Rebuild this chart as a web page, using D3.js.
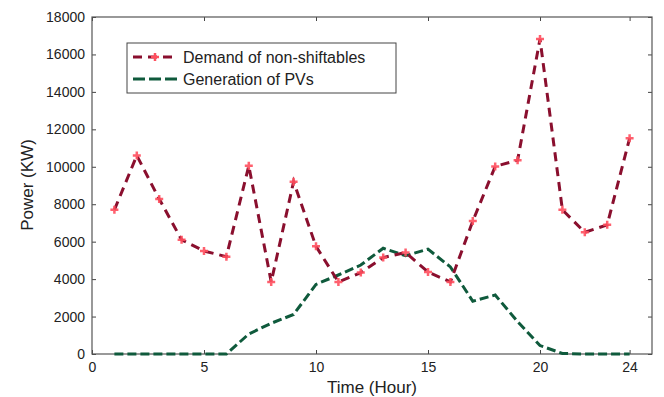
<!DOCTYPE html>
<html><head><meta charset="utf-8">
<script src="https://cdn.jsdelivr.net/npm/d3@7"></script>
<style>
body{margin:0;background:#fff;}
text{font-family:"Liberation Sans",Arial,Helvetica,sans-serif;fill:#222;}
</style></head>
<body><svg id="c" width="664" height="397"></svg>
<script>
const hours = [1,2,3,4,5,6,7,8,9,10,11,12,13,14,15,16,17,18,19,20,21,22,23,24];
const demand = [7700,10600,8280,6100,5500,5200,10050,3850,9200,5750,3850,4350,5150,5420,4380,3850,7100,10020,10350,16820,7700,6500,6900,11520];
const pv = [0,0,0,0,0,0,1070,1640,2110,3720,4220,4750,5650,5250,5600,4650,2820,3150,1730,450,30,0,0,0];
const xTicks = [0,5,10,15,20,24];
const yTicks = [0,2000,4000,6000,8000,10000,12000,14000,16000,18000];
const seriesNames = ["Demand of non-shiftables","Generation of PVs"];

const svg = d3.select("#c");
const L=92,R=652,T=17,B=354;
const x = d3.scaleLinear().domain([0,25]).range([L,R]);
const y = d3.scaleLinear().domain([0,18000]).range([B,T]);

const tickCol="#444";
const gB = svg.append("g").attr("transform",`translate(0,${B})`)
  .call(d3.axisBottom(x).tickValues(xTicks).tickSizeInner(-4).tickSizeOuter(0).tickPadding(8).tickFormat(d3.format("d")));
const gT = svg.append("g").attr("transform",`translate(0,${T})`)
  .call(d3.axisTop(x).tickValues(xTicks).tickSizeInner(-4).tickSizeOuter(0).tickFormat(""));
const gL = svg.append("g").attr("transform",`translate(${L},0)`)
  .call(d3.axisLeft(y).tickValues(yTicks).tickSizeInner(-4).tickSizeOuter(0).tickPadding(7).tickFormat(d3.format("d")));
const gR = svg.append("g").attr("transform",`translate(${R},0)`)
  .call(d3.axisRight(y).tickValues(yTicks).tickSizeInner(-4).tickSizeOuter(0).tickFormat(""));
[gB,gT,gL,gR].forEach(g=>{
  g.selectAll(".domain").remove();
  g.selectAll("line").attr("stroke",tickCol).attr("stroke-width",1);
  g.selectAll("text").style("font-size","14px").style("font-family","Liberation Sans, Arial, sans-serif").attr("fill","#222");
});
svg.append("rect").attr("x",L).attr("y",T).attr("width",R-L).attr("height",B-T)
  .attr("fill","none").attr("stroke","#555").attr("stroke-width",1.2);

const line = (arr)=>d3.line().x((d,i)=>x(hours[i])).y(d=>y(d))(arr);
const demandCol="#8a0f2e", markerCol="#ff4f5e", pvCol="#0f5a3c";
svg.append("path").attr("d",line(pv)).attr("fill","none").attr("stroke",pvCol)
  .attr("stroke-width",3).attr("stroke-dasharray","9,4");
svg.append("path").attr("d",line(demand)).attr("fill","none").attr("stroke",demandCol)
  .attr("stroke-width",3).attr("stroke-dasharray","9,6");
const plusPath = "M-4,0H4M0,-4V4";
svg.selectAll(".m").data(demand).enter().append("path")
  .attr("d",plusPath).attr("transform",(d,i)=>`translate(${x(hours[i])},${y(d)})`)
  .attr("fill","none").attr("stroke",markerCol).attr("stroke-width",2.5).attr("opacity",0.9);

const lg = svg.append("g");
lg.append("rect").attr("x",127).attr("y",43).attr("width",269).attr("height",50)
  .attr("fill","#fff").attr("stroke","#444").attr("stroke-width",1);
lg.append("line").attr("x1",133).attr("x2",177).attr("y1",57).attr("y2",57)
  .attr("stroke",demandCol).attr("stroke-width",3).attr("stroke-dasharray","9,6");
lg.append("path").attr("d",plusPath).attr("transform","translate(155,57)")
  .attr("fill","none").attr("stroke",markerCol).attr("stroke-width",2.5);
lg.append("line").attr("x1",133).attr("x2",177).attr("y1",79).attr("y2",79)
  .attr("stroke",pvCol).attr("stroke-width",3).attr("stroke-dasharray","12,4");
lg.selectAll(".lt").data(seriesNames).enter().append("text")
  .attr("x",183).attr("y",(d,i)=>57+i*22).attr("dy","0.35em")
  .style("font-size","16px").text(d=>d);

svg.append("text").attr("x",(L+R)/2).attr("y",387).attr("dy","0.35em").attr("text-anchor","middle")
  .style("font-size","17px").text("Time (Hour)");
svg.append("text").attr("transform","translate(27,185) rotate(-90)").attr("dy","0.35em")
  .attr("text-anchor","middle").style("font-size","17px").text("Power (KW)");
</script></body></html>
